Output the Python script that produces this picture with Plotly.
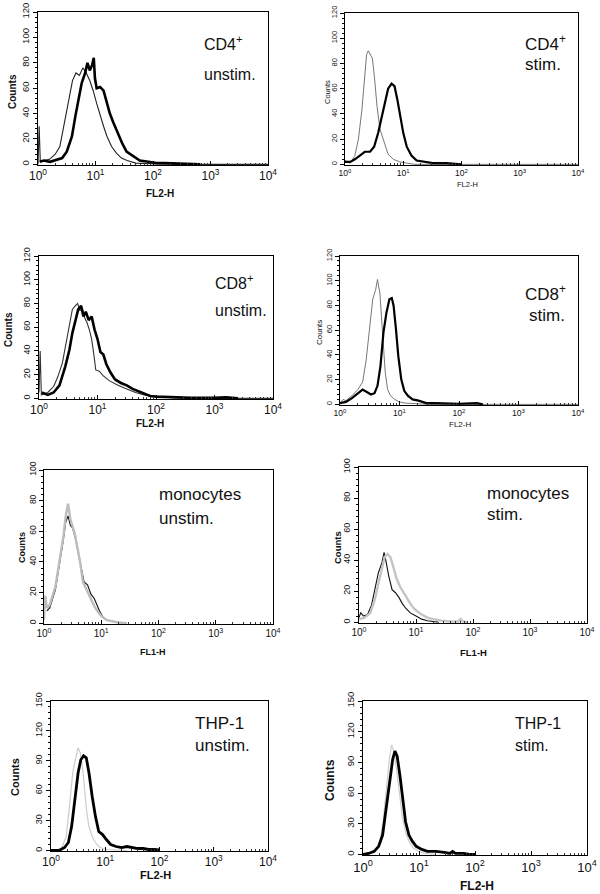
import plotly.graph_objects as go

W, H = 600, 894

# ---------------- data (x as log10 of fluorescence, y as counts) ----------------
# CD4+ unstim.
cd4_unstim_ctrl_e = [0.0, 0.02, 0.04, 0.10, 0.20, 0.30, 0.38, 0.44, 0.50, 0.55, 0.60, 0.66, 0.72, 0.78, 0.84,
                     0.90, 0.96, 1.02, 1.08, 1.14, 1.20, 1.28, 1.36, 1.45, 1.55, 1.70, 2.00, 2.50, 4.00]
cd4_unstim_ctrl_c = [0, 30, 2, 3, 4, 8, 14, 28, 44, 56, 66, 72, 70, 76, 72,
                     66, 58, 48, 38, 30, 22, 14, 9, 5, 3, 1, 0.5, 0, 0]
cd4_unstim_stain_e = [0.03, 0.10, 0.21, 0.33, 0.42, 0.50, 0.59, 0.65, 0.71, 0.76, 0.82, 0.86, 0.90, 0.94, 0.97,
                      0.99, 1.02, 1.08, 1.14, 1.20, 1.25, 1.31, 1.37, 1.46, 1.54, 1.66, 1.77, 1.92, 2.06, 2.21,
                      2.41, 2.64, 2.82]
cd4_unstim_stain_c = [2, 3, 2, 4, 5, 10, 22, 38, 52, 64, 72, 80, 74, 78, 84,
                      68, 60, 61, 58, 48, 40, 33, 26, 17, 10, 6, 3, 2, 1, 1,
                      0.5, 0.5, 0]

# CD4+ stim.
cd4_stim_ctrl_e = [0.0, 0.09, 0.17, 0.23, 0.29, 0.33, 0.37, 0.40, 0.44, 0.47, 0.51, 0.55, 0.60, 0.65, 0.69,
                   0.74, 0.83, 0.94, 1.06, 1.20, 4.0]
cd4_stim_ctrl_c = [3, 1, 7, 20, 43, 67, 87, 90, 87, 84, 67, 46, 28, 21, 14,
                   8, 4, 2, 1, 0, 0]
cd4_stim_stain_e = [0.0, 0.09, 0.17, 0.26, 0.34, 0.43, 0.50, 0.57, 0.63, 0.69, 0.74, 0.80, 0.85, 0.90, 0.94,
                    1.00, 1.06, 1.14, 1.23, 1.34, 1.51, 1.74, 1.94, 2.0]
cd4_stim_stain_c = [2, 2, 4, 7, 10, 10, 14, 25, 38, 51, 60, 64, 62, 51, 41,
                    25, 14, 7, 3, 2, 1, 1, 0.5, 0]

# CD8+ unstim.
cd8_unstim_ctrl_e = [0.0, 0.02, 0.04, 0.15, 0.25, 0.32, 0.40, 0.47, 0.52, 0.57, 0.62, 0.66, 0.70, 0.74, 0.78,
                     0.82, 0.86, 0.90, 0.94, 0.97, 1.03, 1.10, 1.20, 1.35, 1.50, 1.65, 1.80, 2.00, 2.30, 2.60, 4.00]
cd8_unstim_ctrl_c = [5, 40, 3, 5, 10, 18, 30, 48, 62, 75, 78, 80, 74, 76, 68,
                     64, 58, 50, 36, 24, 23, 19, 15, 11, 8, 5, 3, 1.5, 0.5, 0, 0]
cd8_unstim_stain_e = [0.05, 0.15, 0.25, 0.35, 0.45, 0.52, 0.57, 0.62, 0.67, 0.72, 0.76, 0.80, 0.85, 0.90, 0.95,
                      1.00, 1.05, 1.10, 1.15, 1.22, 1.30, 1.40, 1.50, 1.60, 1.70, 1.80, 1.90, 2.00, 2.20, 2.40,
                      2.60, 3.00, 3.20, 3.40]
cd8_unstim_stain_c = [5, 3, 5, 11, 27, 41, 55, 66, 75, 78, 69, 73, 66, 69, 58,
                      50, 39, 37, 29, 22, 16, 13, 11, 8, 6, 4, 2, 1.5, 1, 1,
                      0.5, 0.5, 1, 0]

# CD8+ stim.
cd8_stim_ctrl_e = [0.0, 0.05, 0.10, 0.20, 0.30, 0.38, 0.44, 0.50, 0.55, 0.60, 0.63, 0.67, 0.72, 0.76, 0.80,
                   0.85, 0.92, 1.00, 1.10, 1.30, 1.5, 4.0]
cd8_stim_ctrl_c = [1, 4, 3, 7, 12, 18, 36, 63, 85, 93, 101, 90, 53, 26, 12,
                   7, 4, 2, 1, 0.5, 0, 0]
cd8_stim_stain_e = [0.0, 0.10, 0.20, 0.30, 0.38, 0.45, 0.52, 0.58, 0.63, 0.68, 0.73, 0.78, 0.83, 0.87, 0.90,
                    0.94, 0.98, 1.03, 1.08, 1.14, 1.22, 1.32, 1.45, 1.60, 1.80, 2.00, 2.30, 2.40]
cd8_stim_stain_c = [1, 2, 5, 9, 12, 10, 8, 9, 15, 31, 58, 74, 85, 86, 80,
                    61, 39, 20, 11, 7, 4, 3, 1, 1, 0.5, 0.5, 1, 0]

# monocytes unstim.
mono_unstim_gray_e = [0.0, 0.02, 0.05, 0.10, 0.20, 0.28, 0.34, 0.38, 0.42, 0.46, 0.50, 0.54, 0.58, 0.63, 0.68,
                      0.75, 0.82, 0.88, 0.95, 1.02, 1.10, 1.20, 1.30, 1.45]
mono_unstim_gray_c = [2, 18, 10, 12, 24, 42, 57, 70, 78, 68, 63, 58, 50, 40, 27,
                      21, 16, 11, 7, 4, 2, 1, 0.5, 0]
mono_unstim_black_e = [0.05, 0.10, 0.20, 0.28, 0.34, 0.38, 0.42, 0.46, 0.50, 0.55, 0.60, 0.66, 0.70, 0.76, 0.82,
                       0.88, 0.92, 0.97, 1.03, 1.10, 1.25, 1.40]
mono_unstim_black_c = [8, 10, 22, 40, 55, 66, 70, 64, 62, 55, 45, 33, 27, 25, 19,
                       16, 12, 8, 4, 2, 1, 0]

# monocytes stim.
mono_stim_black_e = [0.0, 0.03, 0.08, 0.15, 0.22, 0.28, 0.34, 0.40, 0.44, 0.47, 0.52, 0.58, 0.64, 0.70, 0.76,
                     0.82, 0.90, 1.00, 1.10, 1.20, 1.30, 1.40]
mono_stim_black_c = [3, 6, 4, 5, 11, 21, 32, 38, 45, 40, 30, 21, 19, 16, 12,
                     9, 6, 4, 2, 1, 0.5, 0]
mono_stim_gray_e = [0.0, 0.10, 0.20, 0.28, 0.34, 0.40, 0.45, 0.50, 0.55, 0.60, 0.66, 0.72, 0.78, 0.84, 0.90,
                    0.96, 1.02, 1.10, 1.20, 1.30, 1.45, 1.60, 1.74, 1.78, 1.82, 1.90]
mono_stim_gray_c = [2, 3, 6, 15, 25, 35, 42, 44, 42, 36, 28, 23, 19, 15, 12,
                    9, 7, 5, 3, 2, 1, 0.5, 0.5, 2, 0.5, 0]

# THP-1 unstim.
thp_unstim_gray_e = [0.0, 0.10, 0.20, 0.28, 0.34, 0.40, 0.46, 0.50, 0.54, 0.58, 0.62, 0.66, 0.70, 0.76, 0.82,
                     0.88, 0.95, 1.05, 1.20, 1.40]
thp_unstim_gray_c = [0, 0, 3, 14, 44, 78, 94, 103, 98, 84, 61, 38, 24, 14, 8,
                     4, 2, 1, 0.5, 0]
thp_unstim_black_e = [0.0, 0.15, 0.25, 0.32, 0.38, 0.44, 0.50, 0.55, 0.60, 0.65, 0.70, 0.76, 0.82, 0.88, 0.95,
                      1.02, 1.10, 1.20, 1.30, 1.40, 1.50, 1.60, 1.70, 1.80, 1.90, 2.00]
thp_unstim_black_c = [0, 0, 3, 8, 24, 51, 78, 91, 95, 93, 78, 54, 34, 19, 16,
                      11, 6, 4, 3, 4, 3, 2, 2, 1, 1, 0.5]

# THP-1 stim.
thp_stim_gray_e = [0.0, 0.15, 0.22, 0.30, 0.36, 0.42, 0.47, 0.51, 0.55, 0.60, 0.65, 0.70, 0.76, 0.82, 0.90,
                   1.00, 1.10, 1.30]
thp_stim_gray_c = [0, 1, 3, 13, 32, 64, 93, 107, 101, 83, 61, 38, 22, 13, 6,
                   3, 1, 0]
thp_stim_black_e = [0.0, 0.10, 0.20, 0.28, 0.35, 0.42, 0.48, 0.53, 0.57, 0.61, 0.66, 0.71, 0.76, 0.82, 0.88,
                    0.95, 1.05, 1.15, 1.30, 1.45, 1.55, 1.60, 1.65, 1.80, 1.90, 2.00]
thp_stim_black_c = [0, 1, 3, 8, 19, 48, 74, 93, 101, 96, 77, 51, 32, 19, 13,
                    8, 5, 3, 3, 2, 1, 3, 1, 1, 0, 0]

decade_tickvals = [1, 10, 100, 1000, 10000]
decade_ticktext = ["10<sup>0</sup>", "10<sup>1</sup>", "10<sup>2</sup>", "10<sup>3</sup>", "10<sup>4</sup>"]

# ---------------- panel layout ----------------
panels = [
    dict(box=(38, 268, 12, 165), ymax=120, ydt=20, ymn=4, xlab="FL2-H",
         lines=[(cd4_unstim_ctrl_e, cd4_unstim_ctrl_c, "#222", 1.1), (cd4_unstim_stain_e, cd4_unstim_stain_c, "#000", 2.6)],
         labels=[("CD4<sup>+</sup>", 202, 43), ("unstim.", 202, 74)], lfs=16,
         ytf=9.5, xtf=12, title_fs=10, bold=True, cnt=(12, 92), fl=(160, 193)),
    dict(box=(345, 578, 13, 165), ymax=120, ydt=20, ymn=4, xlab="FL2-H",
         lines=[(cd4_stim_ctrl_e, cd4_stim_ctrl_c, "#777", 1.0), (cd4_stim_stain_e, cd4_stim_stain_c, "#000", 2.2)],
         labels=[("CD4<sup>+</sup>", 523, 43), ("stim.", 523, 65)], lfs=17,
         ytf=7.5, xtf=8.5, title_fs=7.5, bold=False, cnt=(327, 92), fl=(467, 184)),
    dict(box=(39, 273, 256, 399), ymax=120, ydt=20, ymn=4, xlab="FL2-H",
         lines=[(cd8_unstim_ctrl_e, cd8_unstim_ctrl_c, "#333", 1.1), (cd8_unstim_stain_e, cd8_unstim_stain_c, "#000", 2.6)],
         labels=[("CD8<sup>+</sup>", 213, 282), ("unstim.", 213, 311)], lfs=16,
         ytf=9, xtf=12, title_fs=10, bold=True, cnt=(8, 330), fl=(150, 423)),
    dict(box=(340, 578, 256, 405), ymax=120, ydt=20, ymn=4, xlab="FL2-H",
         lines=[(cd8_stim_ctrl_e, cd8_stim_ctrl_c, "#777", 1.0), (cd8_stim_stain_e, cd8_stim_stain_c, "#000", 2.2)],
         labels=[("CD8<sup>+</sup>", 523, 293), ("stim.", 527, 315)], lfs=17,
         ytf=7.5, xtf=8.5, title_fs=8, bold=False, cnt=(319, 333), fl=(460, 424)),
    dict(box=(44, 273, 470, 624), ymax=100, ydt=20, ymn=4, xlab="FL1-H",
         lines=[(mono_unstim_black_e, mono_unstim_black_c, "#111", 1.1), (mono_unstim_gray_e, mono_unstim_gray_c, "#bdbdbd", 2.4)],
         labels=[("monocytes", 157, 494), ("unstim.", 157, 518)], lfs=17,
         ytf=8.5, xtf=10, title_fs=9, bold=True, cnt=(22, 548), fl=(153, 652)),
    dict(box=(359, 587, 467, 623), ymax=100, ydt=20, ymn=4, xlab="FL1-H",
         lines=[(mono_stim_black_e, mono_stim_black_c, "#111", 1.1), (mono_stim_gray_e, mono_stim_gray_c, "#c4c4c4", 2.4)],
         labels=[("monocytes", 485, 493), ("stim.", 485, 514)], lfs=17,
         ytf=9, xtf=10, title_fs=9.5, bold=True, cnt=(337, 548), fl=(473, 652)),
    dict(box=(51, 268, 701, 851), ymax=150, ydt=30, ymn=6, xlab="FL2-H",
         lines=[(thp_unstim_gray_e, thp_unstim_gray_c, "#cccccc", 1.2), (thp_unstim_black_e, thp_unstim_black_c, "#000", 2.8)],
         labels=[("THP-1", 193, 723), ("unstim.", 193, 745)], lfs=17,
         ytf=9, xtf=12, title_fs=11, bold=True, cnt=(15, 777), fl=(155, 875)),
    dict(box=(363, 587, 701, 855), ymax=150, ydt=30, ymn=6, xlab="FL2-H",
         lines=[(thp_stim_gray_e, thp_stim_gray_c, "#cccccc", 1.2), (thp_stim_black_e, thp_stim_black_c, "#000", 2.8)],
         labels=[("THP-1", 513, 723), ("stim.", 513, 745)], lfs=16,
         ytf=9.5, xtf=13, title_fs=12, bold=True, cnt=(330, 780), fl=(477, 886)),
]

FONT = "Liberation Sans, Arial, sans-serif"
minor_vals = [m * 10 ** k for k in range(4) for m in range(2, 10)]

fig = go.Figure()
layout = dict(template="none", width=W, height=H, autosize=False,
              margin=dict(l=0, r=0, t=0, b=0, pad=0, autoexpand=False),
              paper_bgcolor="white", plot_bgcolor="white", showlegend=False,
              font=dict(family=FONT, color="#111"))
annotations = []

for i, p in enumerate(panels, start=1):
    xs = "" if i == 1 else str(i)
    x0, x1, y0, y1 = p["box"]
    for e, c, col, w in p["lines"]:
        fig.add_trace(go.Scatter(x=[10 ** v for v in e], y=c, mode="lines",
                                 line=dict(color=col, width=w),
                                 xaxis="x" + xs, yaxis="y" + xs, hoverinfo="skip"))
    layout["xaxis" + xs] = dict(
        type="log", range=[0, 4], domain=[x0 / W, x1 / W], anchor="y" + xs, automargin=False,
        showline=True, linecolor="black", linewidth=1, mirror=True,
        showgrid=False, zeroline=False,
        tickmode="array", tickvals=decade_tickvals, ticktext=decade_ticktext,
        ticks="inside", ticklen=4, tickcolor="black", tickwidth=1,
        tickfont=dict(size=p["xtf"], family=FONT, color="#111"),
        minor=dict(tickmode="array", tickvals=minor_vals, ticks="inside", ticklen=2,
                   tickcolor="#333", showgrid=False),
        fixedrange=True)
    layout["yaxis" + xs] = dict(
        range=[-0.5, p["ymax"]], domain=[1 - y1 / H, 1 - y0 / H], anchor="x" + xs, automargin=False,
        showline=True, linecolor="black", linewidth=1, mirror=True,
        showgrid=False, zeroline=False, dtick=p["ydt"], tick0=0,
        ticks="outside", ticklen=4, tickcolor="black", tickwidth=1, tickangle=-90,
        tickfont=dict(size=p["ytf"], family=FONT, color="#111"),
        minor=dict(dtick=p["ymn"], ticks="outside", ticklen=2, tickcolor="black", showgrid=False),
        fixedrange=True)
    for txt, lx, ly in p["labels"]:
        annotations.append(dict(text=txt, x=lx / W, y=1 - ly / H, xref="paper", yref="paper",
                                xanchor="left", yanchor="middle", showarrow=False,
                                font=dict(size=p["lfs"], family=FONT, color="#111")))
    wt = "bold" if p["bold"] else "normal"
    cx, cy = p["cnt"]
    annotations.append(dict(text="Counts", x=cx / W, y=1 - cy / H, xref="paper", yref="paper",
                            xanchor="center", yanchor="middle", showarrow=False, textangle=-90,
                            font=dict(size=p["title_fs"], family=FONT, color="#111", weight=wt)))
    fx, fy = p["fl"]
    annotations.append(dict(text=p["xlab"], x=fx / W, y=1 - fy / H, xref="paper", yref="paper",
                            xanchor="center", yanchor="middle", showarrow=False,
                            font=dict(size=p["title_fs"], family=FONT, color="#111", weight=wt)))

layout["annotations"] = annotations
fig.update_layout(**layout)
fig.write_html("out.html", config={"displayModeBar": False, "staticPlot": True},
               post_script="document.body.style.margin='0';document.body.style.overflow='hidden';")
